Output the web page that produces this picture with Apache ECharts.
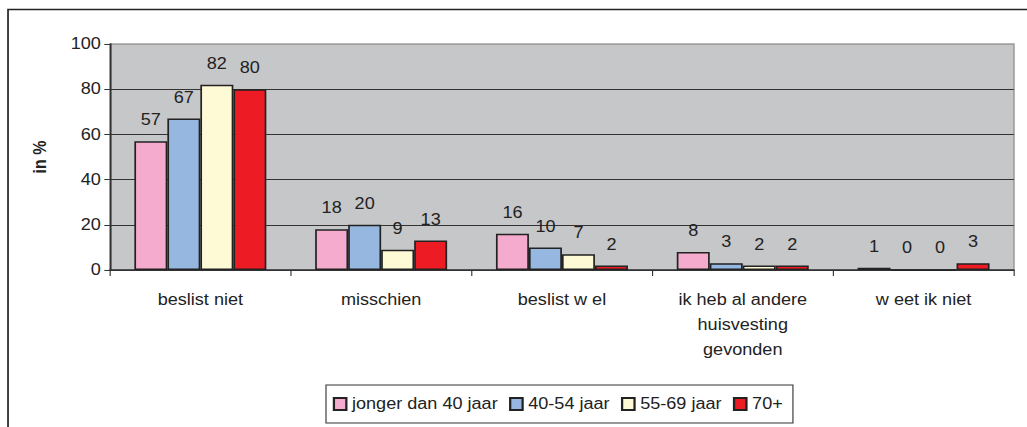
<!DOCTYPE html>
<html>
<head>
<meta charset="utf-8">
<script src="https://cdn.jsdelivr.net/npm/echarts@6/dist/echarts.min.js"></script>
<style>
  html, body { margin: 0; padding: 0; background: #fff; overflow: hidden; }
  #wrap { width: 1027px; height: 427px; overflow: hidden; }
  /* the original picture is stretched sideways, so draw narrower and stretch */
  #main { width: 909px; height: 427px; transform: scaleX(1.13); transform-origin: 0 0; }
</style>
</head>
<body>
<div id="wrap"><div id="main"></div></div>
<script type="text/javascript">
var categories = ['beslist niet', 'misschien', 'beslist w el', 'ik heb al andere\nhuisvesting\ngevonden', 'w eet ik niet'];
var seriesNames = ['jonger dan 40 jaar', '40-54 jaar', '55-69 jaar', '70+'];
var jonger40 = [57, 18, 16, 8, 1];
var jaar4054 = [67, 20, 10, 3, 0];
var jaar5569 = [82, 9, 7, 2, 0];
var jaar70 = [80, 13, 2, 2, 3];
var yTicks = [0, 20, 40, 60, 80, 100];

var colors = ['#f4abcd', '#96b8e0', '#fffad6', '#ed1c24'];
var values = [jonger40, jaar4054, jaar5569, jaar70];
var font = 'Liberation Sans, Arial';

var myChart = echarts.init(document.getElementById('main'), null, { renderer: 'svg' });

var series = seriesNames.map(function (name, i) {
    return {
        name: name,
        type: 'bar',
        data: values[i],
        barGap: '0%',
        barCategoryGap: '27%',
        itemStyle: { color: colors[i], borderColor: '#222', borderWidth: 1.5 },
        label: {
            show: true,
            position: 'top',
            distance: 13,
            color: '#222',
            fontFamily: font,
            fontSize: 16
        }
    };
});

var option = {
    animation: false,
    backgroundColor: '#fff',
    graphic: [{
        type: 'rect',
        shape: { x: 7.1, y: 9.5, width: 1000, height: 500 },
        style: { fill: 'none', stroke: '#222', lineWidth: 1.5 },
        silent: true
    }],
    grid: {
        left: 97.3, right: 11.7, top: 44, bottom: 157,
        show: true,
        backgroundColor: '#c6c7c9',
        borderColor: '#a0a0a0',
        borderWidth: 1.5
    },
    legend: {
        left: 288.5, top: 385,
        padding: [11, 9, 11, 6],
        itemWidth: 11, itemHeight: 12, itemGap: 10,
        icon: 'rect',
        borderColor: '#333', borderWidth: 1,
        textStyle: { fontFamily: font, fontSize: 16, color: '#222' },
        data: seriesNames
    },
    xAxis: {
        type: 'category',
        data: categories,
        axisLine: { lineStyle: { color: '#333', width: 1.5 } },
        axisTick: { show: true, length: 6, lineStyle: { color: '#333' } },
        axisLabel: {
            interval: 0, margin: 17, lineHeight: 25,
            color: '#222', fontFamily: font, fontSize: 16
        }
    },
    yAxis: {
        type: 'value',
        min: yTicks[0], max: yTicks[yTicks.length - 1], interval: 20,
        name: 'in %',
        nameLocation: 'middle',
        nameGap: 54,
        nameTextStyle: { fontFamily: font, fontSize: 16, fontWeight: 'bold', color: '#222' },
        axisLine: { show: true, lineStyle: { color: '#333', width: 1.5 } },
        axisTick: { show: true, length: 5, lineStyle: { color: '#333' } },
        axisLabel: { margin: 8, color: '#222', fontFamily: font, fontSize: 16 },
        splitLine: {
            show: true,
            lineStyle: { color: ['#333', '#333', '#333', '#333', '#333', '#a0a0a0'], width: 1.2 }
        }
    },
    series: series
};
myChart.setOption(option);
</script>
</body>
</html>
